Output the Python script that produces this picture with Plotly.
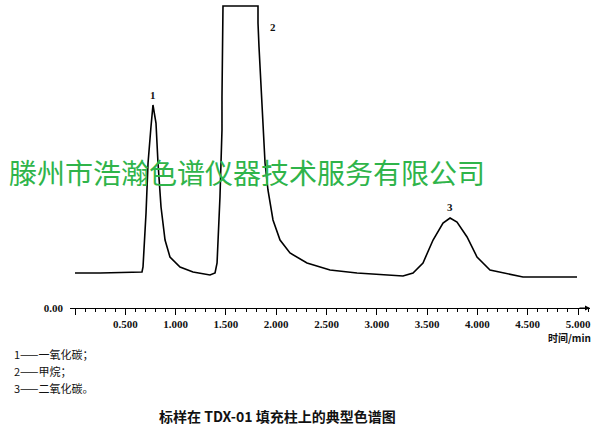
import plotly.graph_objects as go

# Chromatogram trace (retention time in min, detector signal)
time_min = [0.000, 0.249, 0.666, 0.676, 0.706, 0.726, 0.755, 0.775, 0.805, 0.825,
            0.855, 0.895, 0.944, 1.044, 1.173, 1.342, 1.392, 1.412, 1.441, 1.461,
            1.461, 1.471, 1.819, 1.819, 1.829, 1.849, 1.869, 1.889, 1.918, 1.968,
            2.038, 2.137, 2.306, 2.535, 2.803, 3.131, 3.260, 3.360, 3.459, 3.559,
            3.658, 3.728, 3.797, 3.897, 3.996, 4.125, 4.294, 4.453, 4.990]
signal = [0.35, 0.35, 0.36, 0.41, 0.95, 1.45, 1.81, 2.03, 1.85, 1.45,
          1.01, 0.68, 0.51, 0.41, 0.36, 0.33, 0.35, 0.45, 1.11, 1.78,
          2.11, 3.02, 3.02, 2.85, 2.61, 2.21, 1.75, 1.45, 1.18, 0.88,
          0.68, 0.55, 0.45, 0.38, 0.35, 0.33, 0.32, 0.35, 0.45, 0.68,
          0.85, 0.90, 0.86, 0.71, 0.51, 0.38, 0.34, 0.31, 0.31]

# Peak labels
peak_names = ["1", "2", "3"]
peak_times = [0.775, 1.97, 3.728]
peak_heights = [2.13, 2.81, 1.01]

# Axis ticks
major_ticks = [0.0, 0.5, 1.0, 1.5, 2.0, 2.5, 3.0, 3.5, 4.0, 4.5, 5.0]
major_labels = ["", "0.500", "1.000", "1.500", "2.000", "2.500", "3.000",
                "3.500", "4.000", "4.500", "5.000"]

legend_lines = ["1——一氧化碳；", "2——甲烷；", "3——二氧化碳。"]
caption = "标样在 TDX-01 填充柱上的典型色谱图"
watermark = "滕州市浩瀚色谱仪器技术服务有限公司"

serif = "Liberation Serif"
cjk = "Noto Sans CJK SC"

PW, PH = 520, 308  # plot area size in px

fig = go.Figure()
fig.add_trace(go.Scatter(x=time_min, y=signal, mode="lines",
                         line=dict(color="black", width=1.6), hoverinfo="skip",
                         showlegend=False))

for n, t, h in zip(peak_names, peak_times, peak_heights):
    fig.add_annotation(x=t, y=h, text="<b>" + n + "</b>", showarrow=False,
                       xref="x", yref="y",
                       font=dict(family=serif, size=11, color="#111"))

# x-axis arrow
fig.add_annotation(x=1.0, y=0, xref="paper", yref="paper", ax=-12, ay=0,
                   text="", showarrow=True, arrowhead=2, arrowsize=1,
                   arrowwidth=1, arrowcolor="black")

fig.add_annotation(x=1.0, y=-29/PH, xref="paper", yref="paper", text="<b>时间/min</b>",
                   showarrow=False, font=dict(family=cjk, size=10, color="#111"),
                   xanchor="right", yanchor="middle", xshift=3)

for i, line in enumerate(legend_lines):
    fig.add_annotation(x=-58/PW, y=-(46 + 17 * i)/PH, xref="paper", yref="paper",
                       text=line, showarrow=False, xanchor="left", yanchor="middle",
                       font=dict(family=cjk, size=11, color="#111"))

fig.add_annotation(x=(277 - 70)/PW, y=-108/PH, xref="paper", yref="paper",
                   text="<b>" + caption + "</b>", showarrow=False,
                   xanchor="center", yanchor="middle",
                   font=dict(family=cjk, size=14, color="#111"))

fig.add_annotation(x=(7 - 70)/PW, y=(308 - 172)/PH, xref="paper", yref="paper",
                   text=watermark, showarrow=False, xanchor="left", yanchor="middle",
                   font=dict(family=cjk, size=28, color="#2fb44a"))

fig.update_layout(
    width=600, height=432,
    margin=dict(l=70, r=10, t=0, b=124, autoexpand=False),
    plot_bgcolor="white", paper_bgcolor="white",
    xaxis=dict(range=[-0.0497, 5.119], showline=True, linecolor="black", linewidth=1,
               automargin=False,
               tickmode="array", tickvals=major_ticks, ticktext=major_labels,
               ticks="outside", ticklen=6, tickcolor="black", tickwidth=1,
               minor=dict(dtick=0.1, tick0=0, ticks="outside", ticklen=3,
                          tickcolor="black", tickwidth=1),
               showgrid=False, zeroline=False,
               tickfont=dict(family=serif, size=11, color="#111", weight="bold")),
    yaxis=dict(range=[0, 3.08], showline=False, showgrid=False, zeroline=False,
               automargin=False,
               tickmode="array", tickvals=[0], ticktext=["0.00"], ticks="",
               ticklabelstandoff=6,
               tickfont=dict(family=serif, size=11, color="#111", weight="bold")),
)

fig.write_html("out.html", config={"displayModeBar": False},
               post_script="document.body.style.margin='0';document.body.style.overflow='hidden';")
